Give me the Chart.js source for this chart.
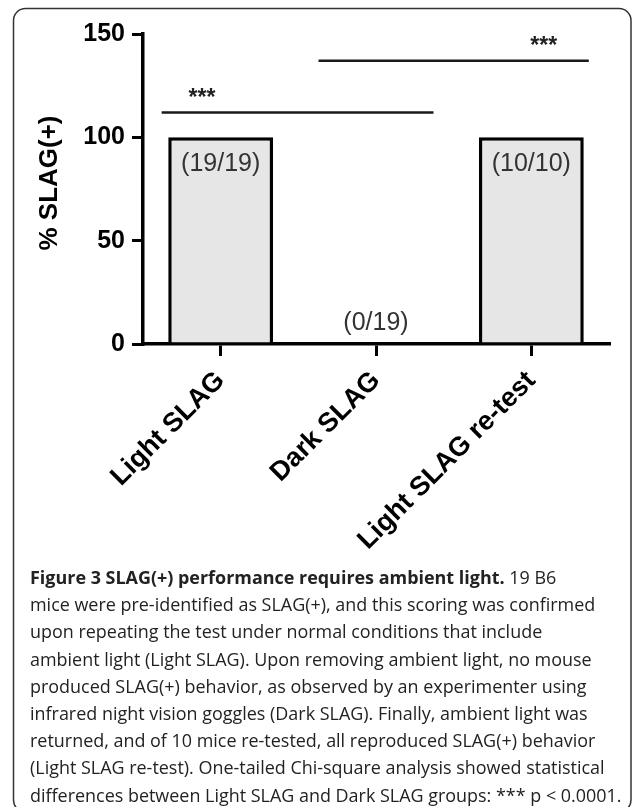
<!DOCTYPE html>
<html><head><meta charset="utf-8">
<script src="https://cdn.jsdelivr.net/npm/chart.js@4.4.1/dist/chart.umd.min.js"></script>
<style>html,body{margin:0;padding:0;background:#fff}canvas{display:block}</style>
</head><body>
<canvas id="c" width="632" height="807"></canvas>
<script>
// Groups and raw counts of SLAG(+) mice
const groups = ['Light SLAG', 'Dark SLAG', 'Light SLAG re-test'];
const slagPositive = [19, 0, 10];
const miceTested = [19, 19, 10];
const percentPositive = slagPositive.map((n, i) => n / miceTested[i] * 100);
const countLabels = slagPositive.map((n, i) => '(' + n + '/' + miceTested[i] + ')');
const yTicks = [0, 50, 100, 150];
const yTitle = '% SLAG(+)';

// Significance bars: span in group-index units, height in % units
const sigFrom = [-0.38, 0.63];
const sigTo = [1.37, 2.37];
const sigHeight = [112, 137];
const sigMarkAt = [-0.12, 2.08];
const sigMark = ['***', '***'];

const captionTitle = 'Figure 3 SLAG(+) performance requires ambient light.';
const captionLines = [
  ' 19 B6',
  'mice were pre-identified as SLAG(+), and this scoring was confirmed',
  'upon repeating the test under normal conditions that include',
  'ambient light (Light SLAG). Upon removing ambient light, no mouse',
  'produced SLAG(+) behavior, as observed by an experimenter using',
  'infrared night vision goggles (Dark SLAG). Finally, ambient light was',
  'returned, and of 10 mice re-tested, all reproduced SLAG(+) behavior',
  '(Light SLAG re-test). One-tailed Chi-square analysis showed statistical',
  'differences between Light SLAG and Dark SLAG groups: *** p < 0.0001.'
];

const AX = 'Liberation Sans, Arial, sans-serif';
const CAP = '"Open Sans", "Noto Sans", sans-serif';

const framePlugin = {
  id: 'frame',
  beforeDraw(chart) {
    const ctx = chart.ctx;
    ctx.save();
    ctx.fillStyle = '#fff';
    ctx.fillRect(0, 0, chart.width, chart.height);
    const x0 = 13.5, y0 = 8.5, x1 = 631, y1 = 812, r = 12;
    ctx.beginPath();
    ctx.moveTo(x0 + r, y0);
    ctx.lineTo(x1 - r, y0);
    ctx.arcTo(x1, y0, x1, y0 + r, r);
    ctx.lineTo(x1, y1 - r);
    ctx.arcTo(x1, y1, x1 - r, y1, r);
    ctx.lineTo(x0 + r, y1);
    ctx.arcTo(x0, y1, x0, y1 - r, r);
    ctx.lineTo(x0, y0 + r);
    ctx.arcTo(x0, y0, x0 + r, y0, r);
    ctx.closePath();
    ctx.lineWidth = 1.5;
    ctx.strokeStyle = '#333';
    ctx.stroke();
    ctx.restore();
  }
};

const annotatePlugin = {
  id: 'annotate',
  afterDatasetsDraw(chart) {
    const ctx = chart.ctx;
    const xs = chart.scales.x, ys = chart.scales.y;
    ctx.save();
    // y-axis title
    ctx.save();
    ctx.translate(50, 183);
    ctx.rotate(-Math.PI / 2);
    ctx.font = 'bold 26px ' + AX;
    ctx.fillStyle = '#000';
    ctx.textAlign = 'center';
    ctx.textBaseline = 'middle';
    ctx.fillText(yTitle, 0, 0);
    ctx.restore();
    // count labels on bars
    ctx.font = '25px ' + AX;
    ctx.fillStyle = '#333';
    ctx.textAlign = 'center';
    ctx.textBaseline = 'middle';
    chart.getDatasetMeta(0).data.forEach((bar, i) => {
      const y = percentPositive[i] > 0 ? bar.y + 27 : bar.base - 21;
      ctx.fillText(countLabels[i], bar.x, y);
    });
    // significance bars
    ctx.strokeStyle = '#1a1a1a';
    ctx.lineWidth = 2.5;
    ctx.font = 'bold 23px ' + AX;
    ctx.fillStyle = '#222';
    ctx.textBaseline = 'alphabetic';
    sigFrom.forEach((f, i) => {
      const y = ys.getPixelForValue(sigHeight[i]);
      ctx.beginPath();
      ctx.moveTo(xs.getPixelForValue(f), y);
      ctx.lineTo(xs.getPixelForValue(sigTo[i]), y);
      ctx.stroke();
      ctx.fillText(sigMark[i], xs.getPixelForValue(sigMarkAt[i]), y - 21 + 0.57 * 23);
    });
    ctx.restore();
  },
  afterDraw(chart) {
    const ctx = chart.ctx;
    ctx.save();
    ctx.fillStyle = '#222';
    ctx.textAlign = 'left';
    ctx.textBaseline = 'alphabetic';
    // fit caption size to the text block width
    let size = 18;
    ctx.font = size + 'px ' + CAP;
    const widest = Math.max(...captionLines.slice(1).map(t => ctx.measureText(t).width));
    size = size * 592 / widest;
    const left = 30, top = 584, step = 27.2;
    ctx.font = 'bold ' + size + 'px ' + CAP;
    ctx.fillText(captionTitle, left, top);
    const w = ctx.measureText(captionTitle).width;
    ctx.font = size + 'px ' + CAP;
    ctx.fillText(captionLines[0], left + w, top);
    for (let i = 1; i < captionLines.length; i++) {
      ctx.fillText(captionLines[i], left, top + step * i);
    }
    ctx.restore();
  }
};

new Chart(document.getElementById('c'), {
  type: 'bar',
  data: {
    labels: groups,
    datasets: [{
      data: percentPositive,
      backgroundColor: '#e6e6e6',
      borderColor: '#000',
      borderWidth: 3.5,
      categoryPercentage: 1,
      barPercentage: 0.675
    }]
  },
  options: {
    responsive: false,
    animation: false,
    events: [],
    layout: { padding: { left: 34, top: 34, right: 23, bottom: 223 } },
    plugins: { legend: { display: false }, tooltip: { enabled: false } },
    scales: {
      x: {
        afterFit(s) { s.height = 240; },
        grid: { display: true, drawOnChartArea: false, offset: false, tickLength: 12, lineWidth: 3, color: '#000' },
        border: { display: true, width: 3.5, color: '#000' },
        ticks: { autoSkip: false, maxRotation: 45, minRotation: 45, padding: 9, color: '#000', font: { family: AX, size: 27, weight: 'bold' } }
      },
      y: {
        min: 0, max: 150,
        afterFit(s) { s.width = 109; },
        afterBuildTicks(s) { s.ticks = yTicks.map(v => ({ value: v })); },
        grid: { display: true, drawOnChartArea: false, tickLength: 11, lineWidth: 3, color: '#000' },
        border: { display: true, width: 3.5, color: '#000' },
        ticks: { padding: 7, color: '#000', font: { family: AX, size: 25, weight: 'bold' } }
      }
    }
  },
  plugins: [framePlugin, annotatePlugin]
});
</script>
</body></html>
